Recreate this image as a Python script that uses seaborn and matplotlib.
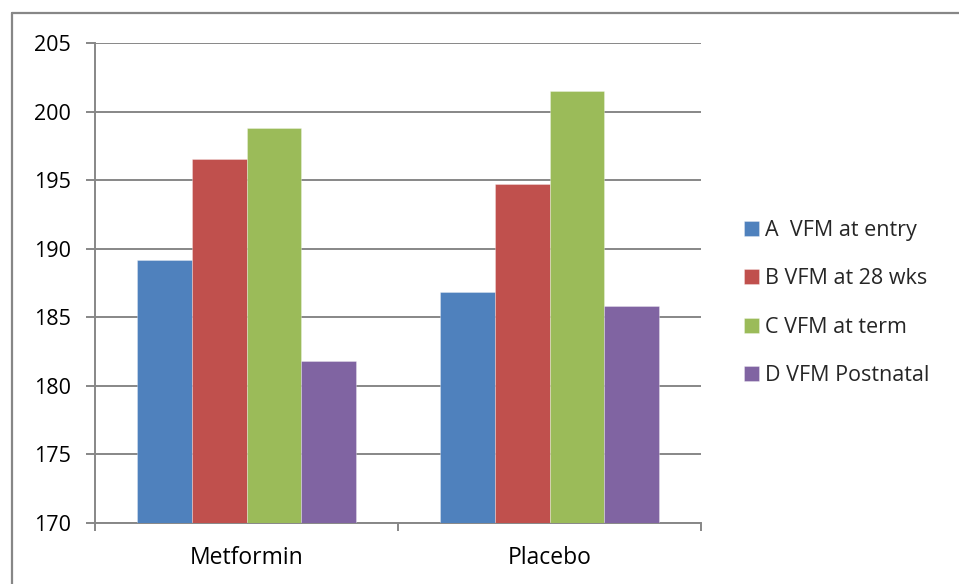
import matplotlib
matplotlib.use("Agg")
import matplotlib.pyplot as plt
from matplotlib.lines import Line2D
import seaborn as sns
import pandas as pd

# Visceral fat mass by treatment group and time point
groups = ["Metformin", "Placebo"]
series = ["A  VFM at entry", "B VFM at 28 wks", "C VFM at term", "D VFM Postnatal"]
vfm_entry = [189.2, 186.8]
vfm_28wks = [196.5, 194.7]
vfm_term = [198.8, 201.5]
vfm_postnatal = [181.8, 185.8]
y_ticks = [170, 175, 180, 185, 190, 195, 200, 205]

colors = ["#4F81BD", "#C0504D", "#9BBB59", "#8064A2"]
grid_grey = "#878787"

rows = []
for name, vals in zip(series, [vfm_entry, vfm_28wks, vfm_term, vfm_postnatal]):
    for g, v in zip(groups, vals):
        rows.append({"group": g, "series": name, "value": v})
df = pd.DataFrame(rows)

sns.set_theme(style="white")
plt.rcParams["font.family"] = ["Open Sans", "DejaVu Sans"]

fig = plt.figure(figsize=(9.59, 5.84), dpi=100)
ax = fig.add_axes([95 / 959, 1 - 522.7 / 584, (701 - 95) / 959, (522.7 - 43) / 584])

sns.barplot(data=df, x="group", y="value", hue="series", order=groups,
            hue_order=series, palette=colors, width=0.726, gap=0,
            saturation=1, ax=ax, edgecolor=(1, 1, 1, 0.35), linewidth=0.6,
            zorder=3)

ax.set_ylim(170, 205)
ax.set_xlim(-0.5, 1.5)
ax.set_yticks(y_ticks)
ax.set_yticklabels([str(t) for t in y_ticks])
ax.yaxis.grid(True, color=grid_grey, linewidth=1.4, zorder=0)
ax.set_axisbelow(True)
ax.set_xlabel("")
ax.set_ylabel("")

for s in ["top", "right"]:
    ax.spines[s].set_visible(False)
for s in ["left", "bottom"]:
    ax.spines[s].set_color(grid_grey)
    ax.spines[s].set_linewidth(1.4)

ax.tick_params(axis="y", which="major", length=6.5, width=1.4, color=grid_grey,
               pad=11, labelsize=15.5, labelcolor="black", left=True)
ax.tick_params(axis="x", which="major", length=0, pad=17, labelsize=16.5,
               labelcolor="black")
ax.set_xticks([-0.5, 0.5, 1.5], minor=True)
ax.tick_params(axis="x", which="minor", length=5.5, width=1.4, color=grid_grey,
               bottom=True)

handles, labels = ax.get_legend_handles_labels()
ax.legend(handles, labels, loc="center left", frameon=False,
          bbox_to_anchor=(733 / 959, 1 - 303 / 584), bbox_transform=fig.transFigure,
          borderpad=0, handlelength=0.7, handleheight=0.7, handletextpad=0.3,
          labelspacing=1.28, fontsize=15.5)

# Chart-area frame along top and left edges
fig.add_artist(Line2D([12 / 959, 1], [1 - 13 / 584, 1 - 13 / 584],
                      transform=fig.transFigure, color=grid_grey, linewidth=1.6))
fig.add_artist(Line2D([12 / 959, 12 / 959], [0, 1 - 13 / 584],
                      transform=fig.transFigure, color=grid_grey, linewidth=1.6))

fig.savefig("out.png", dpi=100, facecolor="white")
